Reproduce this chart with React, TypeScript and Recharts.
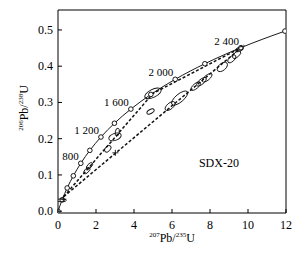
import React from "react";
import {
  ComposedChart,
  Line,
  Scatter,
  XAxis,
  YAxis,
  ReferenceArea,
  ReferenceDot,
  LabelList,
  Label,
} from "recharts";

const W = 302;
const H = 259;
const PLOT_LEFT = 58;
const PLOT_TOP = 10;
const PLOT_RIGHT = 286;
const PLOT_BOTTOM = 213;
const X_MIN = 0;
const X_MAX = 12;
const Y_MIN = -0.005;
const Y_MAX = 0.555;
const KX = (PLOT_RIGHT - PLOT_LEFT) / (X_MAX - X_MIN);
const KY = (PLOT_BOTTOM - PLOT_TOP) / (Y_MAX - Y_MIN);
const FONT = "'Liberation Serif', 'DejaVu Serif', serif";

const xTicks = [0, 2, 4, 6, 8, 10, 12];
const yTicks = [0, 0.1, 0.2, 0.3, 0.4, 0.5];

// concordia, one point every 200 Ma
const concordiaAge = [0, 200, 400, 600, 800, 1000, 1200, 1400, 1600, 1800, 2000, 2200, 2400, 2600];
const concordia207 = [0, 0.218, 0.483, 0.806, 1.199, 1.677, 2.26, 2.97, 3.835, 4.887, 6.168, 7.729, 9.629, 11.944];
const concordia206 = [0, 0.0315, 0.064, 0.0975, 0.1321, 0.1678, 0.2046, 0.2426, 0.2817, 0.3221, 0.3638, 0.4068, 0.4511, 0.4968];
const labelledAges = [800, 1200, 1600, 2000, 2400];
const ageText = ["800", "1 200", "1 600", "2 000", "2 400"];

// discordia lines
const upperDiscX = [0.3, 5.0, 9.63];
const upperDiscY = [0.04, 0.325, 0.451];
const lowerDiscX = [0.3, 9.8];
const lowerDiscY = [0.04, 0.458];

// analyses: centre, errors, correlation
const ellX = [1.52, 1.66, 2.62, 3.0, 3.12, 4.87, 5.0, 6.4, 5.9, 7.25, 7.55, 7.85, 8.65, 9.15, 9.4, 9.55, 0.18];
const ellY = [0.112, 0.125, 0.172, 0.205, 0.218, 0.275, 0.325, 0.312, 0.29, 0.345, 0.357, 0.368, 0.398, 0.42, 0.432, 0.447, 0.03];
const ellSx = [0.163, 0.163, 0.173, 0.327, 0.11, 0.19, 0.433, 0.425, 0.262, 0.256, 0.256, 0.256, 0.269, 0.219, 0.219, 0.194, 0.26];
const ellSy = [0.0089, 0.0089, 0.0093, 0.011, 0.011, 0.0073, 0.015, 0.0196, 0.0124, 0.0119, 0.0119, 0.0119, 0.013, 0.0103, 0.0103, 0.007, 0.0041];
const ellRho = [0.6, 0.6, 0.44, 0.39, 0.25, 0.54, 0.59, 0.72, 0.59, 0.7, 0.7, 0.7, 0.49, 0.59, 0.59, 0.52, 0];

const crossX = [0.28, 3.02];
const crossY = [0.033, 0.161];

const concordia = concordiaAge.map((age, i) => ({ age, x: concordia207[i], y: concordia206[i] }));
const upperDisc = upperDiscX.map((x, i) => ({ x, y: upperDiscY[i] }));
const lowerDisc = lowerDiscX.map((x, i) => ({ x, y: lowerDiscY[i] }));
const ellipses = ellX.map((x, i) => ({ x, y: ellY[i], sx: ellSx[i], sy: ellSy[i], rho: ellRho[i] }));
const crosses = crossX.map((x, i) => ({ x, y: crossY[i] }));

function ErrorEllipse(props: any) {
  const { cx, cy, payload } = props;
  if (cx == null || cy == null) return null;
  const sx = payload.sx * KX;
  const sy = payload.sy * KY;
  const a = sx * sx;
  const c = sy * sy;
  const b = -payload.rho * sx * sy; // screen y points down
  const mid = (a + c) / 2;
  const d = Math.sqrt(((a - c) / 2) ** 2 + b * b);
  const r1 = Math.sqrt(mid + d);
  const r2 = Math.sqrt(Math.max(mid - d, 0.2));
  const ang = (0.5 * Math.atan2(2 * b, a - c) * 180) / Math.PI;
  return (
    <ellipse
      cx={cx}
      cy={cy}
      rx={r1}
      ry={r2}
      transform={`rotate(${ang} ${cx} ${cy})`}
      fill="none"
      stroke="#111"
      strokeWidth={0.9}
    />
  );
}

function Cross(props: any) {
  const { cx, cy } = props;
  if (cx == null || cy == null) return null;
  return (
    <g stroke="#111" strokeWidth={0.9}>
      <line x1={cx - 3} x2={cx + 3} y1={cy} y2={cy} />
      <line x1={cx} x2={cx} y1={cy - 3} y2={cy + 3} />
    </g>
  );
}

function XTick(props: any) {
  const { x, payload } = props;
  return (
    <g>
      <line x1={x} x2={x} y1={PLOT_BOTTOM} y2={PLOT_BOTTOM - 4} stroke="#000" />
      <text x={x} y={PLOT_BOTTOM + 16} textAnchor="middle" fontFamily={FONT} fontSize={12} fill="#000">
        {payload.value}
      </text>
    </g>
  );
}

function YTick(props: any) {
  const { y, payload } = props;
  return (
    <g>
      <line x1={PLOT_LEFT} x2={PLOT_LEFT + 4} y1={y} y2={y} stroke="#000" />
      <text x={PLOT_LEFT - 5} y={y + 4} textAnchor="end" fontFamily={FONT} fontSize={12} fill="#000">
        {Number(payload.value).toFixed(1)}
      </text>
    </g>
  );
}

function AgeLabel(props: any) {
  const { x, y, value } = props;
  const k = labelledAges.indexOf(value);
  if (k < 0) return null;
  return (
    <text x={x - 2} y={y - 3} textAnchor="end" fontFamily={FONT} fontSize={11} fill="#000">
      {ageText[k]}
    </text>
  );
}

function XTitle(props: any) {
  const { viewBox } = props;
  const cx = viewBox.x + viewBox.width / 2;
  return (
    <text x={cx} y={PLOT_BOTTOM + 29} textAnchor="middle" fontFamily={FONT} fontSize={12} fill="#000">
      <tspan fontSize={7} dy={-5}>207</tspan>
      <tspan dy={5}>Pb/</tspan>
      <tspan fontSize={7} dy={-5}>235</tspan>
      <tspan dy={5}>U</tspan>
    </text>
  );
}

function YTitle() {
  const cx = 28;
  const cy = 108;
  return (
    <text
      x={cx}
      y={cy}
      transform={`rotate(-90 ${cx} ${cy})`}
      textAnchor="middle"
      fontFamily={FONT}
      fontSize={12}
      fill="#000"
    >
      <tspan fontSize={7} dy={-5}>206</tspan>
      <tspan dy={5}>Pb/</tspan>
      <tspan fontSize={7} dy={-5}>238</tspan>
      <tspan dy={5}>U</tspan>
    </text>
  );
}

export default function App() {
  return (
    <div style={{ position: "absolute", left: 0, top: 0, width: W, height: H, background: "#fff" }}>
      <ComposedChart
        width={W}
        height={H}
        margin={{ top: PLOT_TOP, right: W - PLOT_RIGHT, left: 0, bottom: 0 }}
      >
        <XAxis
          type="number"
          dataKey="x"
          domain={[X_MIN, X_MAX]}
          ticks={xTicks}
          allowDataOverflow
          height={H - PLOT_BOTTOM}
          axisLine={false}
          tickLine={false}
          tick={<XTick />}
          interval={0}
        >
          <Label content={<XTitle />} />
        </XAxis>
        <YAxis
          type="number"
          dataKey="y"
          domain={[Y_MIN, Y_MAX]}
          ticks={yTicks}
          allowDataOverflow
          width={PLOT_LEFT}
          axisLine={false}
          tickLine={false}
          tick={<YTick />}
          interval={0}
        >
          <Label content={<YTitle />} />
        </YAxis>
        <ReferenceArea
          x1={X_MIN}
          x2={X_MAX}
          y1={Y_MIN}
          y2={Y_MAX}
          fill="none"
          stroke="#000"
          strokeWidth={1}
          fillOpacity={0}
        />
        <Line
          data={lowerDisc}
          dataKey="y"
          type="linear"
          stroke="#111"
          strokeWidth={1.5}
          strokeDasharray="3 2"
          dot={false}
          isAnimationActive={false}
        />
        <Line
          data={upperDisc}
          dataKey="y"
          type="linear"
          stroke="#111"
          strokeWidth={1.5}
          strokeDasharray="3 2"
          dot={false}
          isAnimationActive={false}
        />
        <Line
          data={concordia}
          dataKey="y"
          type="monotone"
          stroke="#000"
          strokeWidth={0.9}
          dot={{ r: 2.3, fill: "#fff", stroke: "#000", strokeWidth: 0.9 }}
          isAnimationActive={false}
        >
          <LabelList dataKey="age" content={<AgeLabel />} />
        </Line>
        <Scatter data={ellipses} dataKey="y" shape={<ErrorEllipse />} isAnimationActive={false} />
        <Scatter data={crosses} dataKey="y" shape={<Cross />} isAnimationActive={false} />
        <ReferenceDot
          x={8.47}
          y={0.133}
          r={0}
          fill="none"
          stroke="none"
          label={{ value: "SDX-20", position: "center", fontFamily: FONT, fontSize: 12, fill: "#000" }}
        />
      </ComposedChart>
    </div>
  );
}
